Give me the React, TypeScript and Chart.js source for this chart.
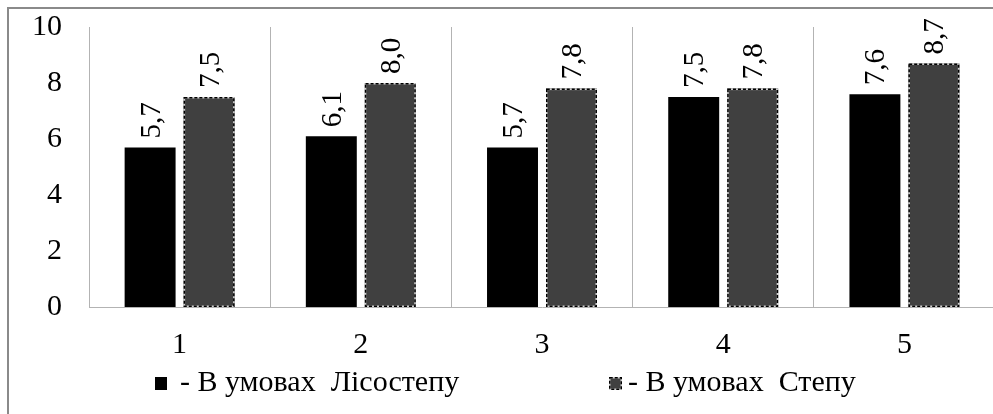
import React, { useEffect, useRef } from "react";
import { Chart, registerables } from "chart.js";

Chart.register(...registerables);

// Categories and the two series (yield by growing zone)
const categories = ["1", "2", "3", "4", "5"];
const forestSteppe = [5.7, 6.1, 5.7, 7.5, 7.6];
const steppe = [7.5, 8.0, 7.8, 7.8, 8.7];
const seriesNames = ["- В умовах  Лісостепу", "- В умовах  Степу"];
const yMin = 0;
const yMax = 10;
const yStep = 2;

const FONT = '"Liberation Serif", "Times New Roman", serif';
const TEXT_SIZE = 30;
const LABEL_SIZE = 29;
const GRID = "#b3b3b3";

const fmt = (v: number) => v.toFixed(1).replace(".", ",");

function dashedOutline(ctx: CanvasRenderingContext2D, l: number, t: number, w: number, h: number) {
  ctx.save();
  ctx.lineWidth = 1.5;
  ctx.setLineDash([]);
  ctx.strokeStyle = "#d0d0d0";
  ctx.strokeRect(l + 0.75, t + 0.75, w - 1.5, h - 1.5);
  ctx.setLineDash([3, 2]);
  ctx.strokeStyle = "#000";
  ctx.strokeRect(l + 0.75, t + 0.75, w - 1.5, h - 1.5);
  ctx.restore();
}

const decorations = {
  id: "decorations",
  beforeDraw(chart: any) {
    const ctx: CanvasRenderingContext2D = chart.ctx;
    ctx.save();
    ctx.fillStyle = "#fff";
    ctx.fillRect(0, 0, chart.width, chart.height);
    ctx.strokeStyle = "#8a8a8a";
    ctx.lineWidth = 2;
    ctx.strokeRect(8, 8, 3000, 3000);
    ctx.restore();
  },
  afterDatasetsDraw(chart: any) {
    const ctx: CanvasRenderingContext2D = chart.ctx;
    // dashed outline on the steppe bars
    chart.getDatasetMeta(1).data.forEach((bar: any) => {
      const { x, y, base, width } = bar.getProps(["x", "y", "base", "width"], true);
      dashedOutline(ctx, x - width / 2, y, width, base - y);
    });
    // vertical value labels above the bars
    ctx.save();
    ctx.font = `${LABEL_SIZE}px ${FONT}`;
    ctx.fillStyle = "#000";
    ctx.textAlign = "left";
    ctx.textBaseline = "alphabetic";
    chart.data.datasets.forEach((ds: any, i: number) => {
      chart.getDatasetMeta(i).data.forEach((bar: any, j: number) => {
        ctx.save();
        ctx.translate(bar.x + 0.33 * LABEL_SIZE, bar.y - 9);
        ctx.rotate(-Math.PI / 2);
        ctx.fillText(fmt(ds.data[j]), 0, 0);
        ctx.restore();
      });
    });
    ctx.restore();
  },
  afterDraw(chart: any) {
    const ctx: CanvasRenderingContext2D = chart.ctx;
    ctx.save();
    ctx.font = `${TEXT_SIZE}px ${FONT}`;
    ctx.fillStyle = "#000";
    ctx.textAlign = "left";
    ctx.textBaseline = "alphabetic";
    // legend
    ctx.fillRect(155, 377, 12, 13);
    ctx.fillText(seriesNames[0], 180, 391);
    ctx.fillStyle = "#404040";
    ctx.fillRect(609, 377, 13, 13);
    dashedOutline(ctx, 609, 377, 13, 13);
    ctx.fillStyle = "#000";
    ctx.fillText(seriesNames[1], 628, 391);
    ctx.restore();
  },
};

export default function App() {
  const ref = useRef<HTMLCanvasElement | null>(null);

  useEffect(() => {
    if (!ref.current) return;
    const chart = new Chart(ref.current, {
      type: "bar",
      data: {
        labels: categories,
        datasets: [
          {
            label: seriesNames[0],
            data: forestSteppe,
            backgroundColor: "#000",
            borderWidth: 0,
            categoryPercentage: 0.651,
            barPercentage: 0.864,
          },
          {
            label: seriesNames[1],
            data: steppe,
            backgroundColor: "#404040",
            borderWidth: 0,
            categoryPercentage: 0.651,
            barPercentage: 0.864,
          },
        ],
      },
      options: {
        responsive: false,
        animation: false,
        devicePixelRatio: 1,
        layout: { padding: { left: 0, top: 27, right: 15, bottom: 0 } },
        plugins: { legend: { display: false }, tooltip: { enabled: false } },
        scales: {
          x: {
            grid: { display: true, color: GRID, lineWidth: 1, drawTicks: false, offset: true },
            border: { display: true, color: GRID, width: 1 },
            ticks: { color: "#000", font: { family: FONT, size: TEXT_SIZE }, padding: 20 },
            afterFit: (s: any) => {
              s.height = 113;
            },
          },
          y: {
            min: yMin,
            max: yMax,
            grid: { display: false, drawTicks: false },
            border: { display: false },
            ticks: { stepSize: yStep, color: "#000", font: { family: FONT, size: TEXT_SIZE }, padding: 27 },
            afterFit: (s: any) => {
              s.width = 89;
              s.paddingTop = 0;
              s.paddingBottom = 0;
            },
          },
        },
      },
      plugins: [decorations],
    });
    return () => chart.destroy();
  }, []);

  return (
    <div
      style={{
        position: "fixed",
        left: 0,
        top: 0,
        width: 993,
        height: 414,
        overflow: "hidden",
        background: "#fff",
      }}
    >
      <canvas ref={ref} width={1010} height={420} style={{ display: "block" }} />
    </div>
  );
}
